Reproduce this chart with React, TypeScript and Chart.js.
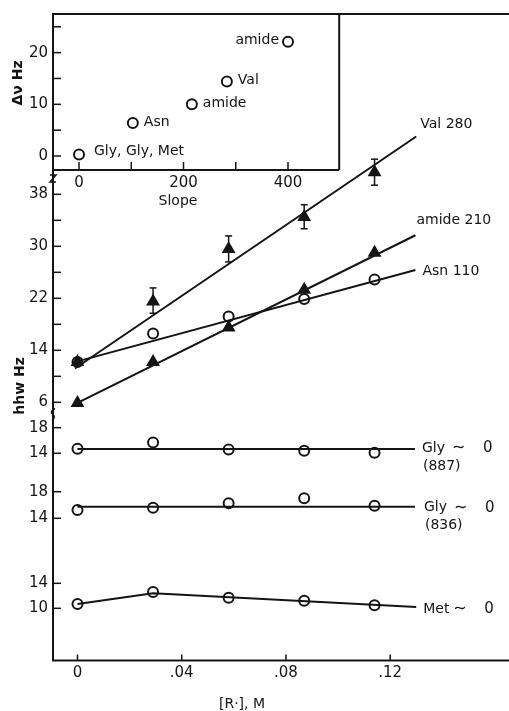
import React, { useEffect, useRef } from "react";
import { Chart, registerables } from "chart.js";
Chart.register(...registerables);

// ---- Main panel data: [R·] (M) vs hhw (Hz)
const concentration = [0, 0.029, 0.058, 0.087, 0.114];
const valHhw = [12.2, 21.5, 29.6, 34.5, 41.4];
const valErrLow = [null, 19.7, 27.6, 32.7, 39.4];
const valErrHigh = [null, 23.6, 31.6, 36.4, 43.4];
const amideHhw = [5.9, 12.2, 17.5, 23.3, 29.0];
const asnHhw = [12.2, 16.6, 19.2, 21.9, 24.9];
const gly887Hhw = [14.7, 15.7, 14.6, 14.4, 14.1];
const gly836Hhw = [15.25, 15.6, 16.25, 17.0, 15.9];
const metHhw = [10.7, 12.6, 11.7, 11.2, 10.5];

// fitted lines (x, y pairs)
const valFitX = [-0.001, 0.13];
const valFitY = [11.2, 46.9];
const amideFitX = [0, 0.1297];
const amideFitY = [5.9, 31.7];
const asnFitX = [0, 0.1297];
const asnFitY = [12.3, 26.35];
const glyFitX = [0, 0.1295];
const gly887FitY = [14.67, 14.67];
const gly836FitY = [15.74, 15.74];
const metLineX = [0, 0.029, 0.13];
const metLineY = [10.7, 12.4, 10.2];

const seriesLabels = ["Val 280", "amide 210", "Asn 110", "Gly", "Gly", "Met"];
const seriesSubLabels = ["", "", "", "(887)", "(836)", ""];

// ---- Inset data: slope vs Δν
const slopes = [0, 103, 216, 283, 400];
const deltaNu = [0.3, 6.4, 10.0, 14.4, 22.1];
const insetLabels = ["Gly, Gly, Met", "Asn", "amide", "Val", "amide"];

// ---- ticks
const concTicks = [0, 0.04, 0.08, 0.12];
const concTickLabels = ["0", ".04", ".08", ".12"];
const upperTicks = [6, 10, 14, 18, 22, 26, 30, 34, 38];
const upperTickLabels = ["6", "", "14", "", "22", "", "30", "", "38"];
const gly887Ticks = [14, 18];
const gly836Ticks = [14, 18];
const metTicks = [10, 14];
const slopeTicks = [0, 100, 200, 300, 400];
const slopeTickLabels = ["0", "", "200", "", "400"];
const deltaNuTicks = [0, 5, 10, 15, 20, 25];
const deltaNuTickLabels = ["0", "", "10", "", "20", ""];

const insetXMax = 498;
const insetYMin = -2.7;

const FONT = "'DejaVu Sans', sans-serif";
const INK = "#141414";

const pts = (xs: number[], ys: (number | null)[]) =>
  xs.map((x, i) => ({ x, y: ys[i] as number }));

const decorPlugin = {
  id: "decor",
  afterDatasetsDraw(chart: any) {
    const ctx: CanvasRenderingContext2D = chart.ctx;
    const s = chart.scales;
    const a = chart.chartArea;
    const L = a.left;
    ctx.save();
    ctx.strokeStyle = INK;
    ctx.fillStyle = INK;
    ctx.lineCap = "butt";
    const line = (x1: number, y1: number, x2: number, y2: number, w = 2) => {
      ctx.lineWidth = w;
      ctx.beginPath();
      ctx.moveTo(x1, y1);
      ctx.lineTo(x2, y2);
      ctx.stroke();
    };
    const text = (t: string, x: number, y: number, align: CanvasTextAlign = "left", size = 14, weight = "normal") => {
      ctx.font = `${weight} ${size}px ${FONT}`;
      ctx.textAlign = align;
      ctx.textBaseline = "middle";
      ctx.fillText(t, x, y);
    };

    // frame
    line(L, a.top, L, a.bottom);
    line(L - 1, a.top, a.right, a.top);
    line(L - 1, a.bottom, a.right, a.bottom);

    // inset box
    const ixr = s.x2.getPixelForValue(insetXMax);
    const iyb = s.y2.getPixelForValue(insetYMin);
    line(ixr, a.top, ixr, iyb);
    line(L, iyb, ixr, iyb);

    // main x ticks
    concTicks.forEach((v, i) => {
      const px = s.x.getPixelForValue(v);
      line(px, a.bottom, px, a.bottom - 6, 1.5);
      text(concTickLabels[i], px, a.bottom + 13, "center", 15);
    });

    // main y ticks (several stacked panels)
    const yTicks = (scale: any, vals: number[], labels: (string)[]) => {
      vals.forEach((v, i) => {
        const py = scale.getPixelForValue(v);
        line(L, py, L + 8, py, 1.5);
        if (labels[i]) text(labels[i], L - 5, py, "right", 15);
      });
    };
    yTicks(s.yU, upperTicks, upperTickLabels);
    yTicks(s.yG1, gly887Ticks, gly887Ticks.map(String));
    yTicks(s.yG2, gly836Ticks, gly836Ticks.map(String));
    yTicks(s.yM, metTicks, metTicks.map(String));

    // inset ticks
    slopeTicks.forEach((v, i) => {
      const px = s.x2.getPixelForValue(v);
      line(px, iyb, px, iyb - 8, 1.5);
      if (slopeTickLabels[i]) text(slopeTickLabels[i], px, iyb + 13, "center", 15);
    });
    deltaNuTicks.forEach((v, i) => {
      const py = s.y2.getPixelForValue(v);
      line(L, py, L + 8, py, 1.5);
      if (deltaNuTickLabels[i]) text(deltaNuTickLabels[i], L - 5, py, "right", 15);
    });

    // axis break marks
    const zig = (y: number) => {
      ctx.lineWidth = 1.5;
      ctx.beginPath();
      ctx.moveTo(L - 3, y - 4);
      ctx.lineTo(L + 3, y - 4);
      ctx.lineTo(L - 3, y + 3);
      ctx.lineTo(L + 3, y + 3);
      ctx.stroke();
    };
    zig(179);
    ctx.lineWidth = 1.5;
    ctx.beginPath();
    const yb = s.yU.getPixelForValue(6) + 10;
    ctx.moveTo(L + 2, yb - 4);
    ctx.quadraticCurveTo(L - 4, yb, L, yb + 2);
    ctx.quadraticCurveTo(L + 3, yb + 5, L - 1, yb + 8);
    ctx.stroke();

    // axis titles
    text("[R·], M", 242, a.bottom + 44, "center", 14);
    ctx.font = `normal 14px ${FONT}`;
    const wAll = ctx.measureText("[R·], M").width;
    const wM = ctx.measureText("M").width;
    line(242 + wAll / 2 - wM, a.bottom + 52, 242 + wAll / 2, a.bottom + 52, 1.5);
    text("Slope", 178, iyb + 31, "center", 14);
    ctx.save();
    ctx.translate(20, 386);
    ctx.rotate(-Math.PI / 2);
    text("hhw Hz", 0, 0, "center", 14, "bold");
    ctx.restore();
    ctx.save();
    ctx.translate(18, 83);
    ctx.rotate(-Math.PI / 2);
    text("Δν Hz", 0, 0, "center", 14, "bold");
    ctx.restore();

    // error bars for Val
    concentration.forEach((c, i) => {
      const lo = valErrLow[i], hi = valErrHigh[i];
      if (lo == null || hi == null) return;
      const px = s.x.getPixelForValue(c);
      const pl = s.yU.getPixelForValue(lo), ph = s.yU.getPixelForValue(hi);
      line(px, pl, px, ph, 1.5);
      line(px - 3.5, pl, px + 3.5, pl, 1.5);
      line(px - 3.5, ph, px + 3.5, ph, 1.5);
    });

    // series labels at ends of fitted lines
    const ends = [
      [s.x.getPixelForValue(valFitX[1]), s.yU.getPixelForValue(valFitY[1]), 4, -12],
      [s.x.getPixelForValue(amideFitX[1]), s.yU.getPixelForValue(amideFitY[1]), 1, -15],
      [s.x.getPixelForValue(asnFitX[1]), s.yU.getPixelForValue(asnFitY[1]), 7, 1],
      [s.x.getPixelForValue(glyFitX[1]), s.yG1.getPixelForValue(gly887FitY[1]), 7, -1],
      [s.x.getPixelForValue(glyFitX[1]), s.yG2.getPixelForValue(gly836FitY[1]), 9, 1],
      [s.x.getPixelForValue(metLineX[2]), s.yM.getPixelForValue(metLineY[2]), 7, 2],
    ];
    ends.forEach(([ex, ey, dx, dy], i) => {
      const lx = ex + dx, ly = ey + dy;
      text(seriesLabels[i], lx, ly, "left", 14);
      if (i >= 3) {
        text("∼", lx + 30, ly, "left", 16);
        text("0", lx + 61, ly, "left", 15);
      }
      if (seriesSubLabels[i]) text(seriesSubLabels[i], lx + 1, ly + 18, "left", 14);
    });

    // inset point labels
    slopes.forEach((v, i) => {
      const px = s.x2.getPixelForValue(v);
      const py = s.y2.getPixelForValue(deltaNu[i]);
      if (i === slopes.length - 1) text(insetLabels[i], px - 9, py - 1, "right", 14);
      else text(insetLabels[i], px + (i === 0 ? 15 : 11), py - (i === 0 ? 3 : 1), "left", 14);
    });
    ctx.restore();
  },
};

const lineDs = (xs: number[], ys: number[], yAxisID: string) => ({
  type: "line" as const,
  data: pts(xs, ys),
  xAxisID: "x",
  yAxisID,
  borderColor: INK,
  borderWidth: 2,
  pointRadius: 0,
  fill: false,
  tension: 0,
  order: 2,
});

const pointDs = (ys: number[], yAxisID: string, style: string, filled: boolean, xs = concentration, xAxisID = "x") => ({
  type: "line" as const,
  data: pts(xs, ys),
  xAxisID,
  yAxisID,
  showLine: false,
  pointStyle: style,
  pointRadius: style === "triangle" ? 6 : 5,
  pointBorderWidth: 2,
  pointBorderColor: INK,
  pointBackgroundColor: filled ? INK : "rgba(0,0,0,0)",
  order: 1,
});

export default function App() {
  const ref = useRef<HTMLCanvasElement | null>(null);
  useEffect(() => {
    if (!ref.current) return;
    const chart = new Chart(ref.current, {
      type: "line",
      data: {
        datasets: [
          lineDs(valFitX, valFitY, "yU"),
          lineDs(amideFitX, amideFitY, "yU"),
          lineDs(asnFitX, asnFitY, "yU"),
          lineDs(glyFitX, gly887FitY, "yG1"),
          lineDs(glyFitX, gly836FitY, "yG2"),
          lineDs(metLineX, metLineY, "yM"),
          pointDs(valHhw, "yU", "triangle", true),
          pointDs(amideHhw, "yU", "triangle", true),
          pointDs(asnHhw, "yU", "circle", false),
          pointDs(gly887Hhw, "yG1", "circle", false),
          pointDs(gly836Hhw, "yG2", "circle", false),
          pointDs(metHhw, "yM", "circle", false),
          pointDs(deltaNu, "y2", "circle", false, slopes, "x2"),
        ] as any,
      },
      options: {
        animation: false,
        responsive: false,
        devicePixelRatio: 1,
        layout: { autoPadding: false, padding: { left: 53, top: 14, right: 0, bottom: 50.5 } },
        plugins: { legend: { display: false }, tooltip: { enabled: false }, title: { display: false } },
        scales: {
          x: { type: "linear", display: false, min: -0.0094, max: 0.1656 },
          x2: { type: "linear", display: false, min: -49.8, max: 823 },
          yU: { type: "linear", display: false, min: -33.72, max: 65.74 },
          yG1: { type: "linear", display: false, min: -18.38, max: 82.64 },
          yG2: { type: "linear", display: false, min: -7.38, max: 89.83 },
          yM: { type: "linear", display: false, min: 1.65, max: 105.09 },
          y2: { type: "linear", display: false, min: -97.58, max: 27.47 },
        },
      } as any,
      plugins: [decorPlugin],
    });
    return () => chart.destroy();
  }, []);
  return (
    <div style={{ position: "fixed", left: 0, top: 0, width: 509, height: 711, background: "#fff" }}>
      <canvas ref={ref} width={509} height={711} style={{ display: "block" }} />
    </div>
  );
}
